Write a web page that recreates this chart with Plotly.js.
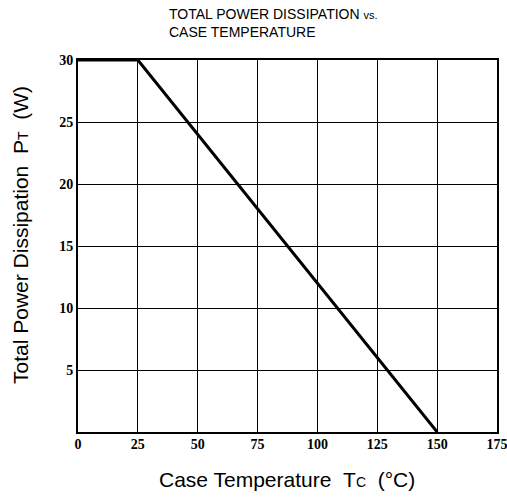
<!DOCTYPE html>
<html>
<head>
<meta charset="utf-8">
<script src="https://cdn.plot.ly/plotly-3.0.1.min.js"></script>
<style>html,body{margin:0;padding:0;background:#fff;}#chart{width:507px;height:498px;}</style>
</head>
<body>
<div id="chart"></div>
<script>
// Derating curve
const caseTempC = [0, 25, 150];
const powerW = [30, 30, 0];
const xTicks = [0, 25, 50, 75, 100, 125, 150, 175];
const yTicks = [5, 10, 15, 20, 25, 30];

const trace = {
  x: caseTempC,
  y: powerW,
  type: 'scatter',
  mode: 'lines',
  line: {color: '#000', width: 3},
  hoverinfo: 'skip'
};

const W = 507, H = 498;
const M = {l: 78, r: 10, t: 60, b: 66};
const pw = W - M.l - M.r, ph = H - M.t - M.b;
const px = x => (x - M.l) / pw;          // pixel -> paper x
const py = y => (H - M.b - y) / ph;      // pixel -> paper y

const tickFont = {family: '"Liberation Serif", "DejaVu Serif", serif', size: 14, color: '#000', weight: 'bold'};
const labelFont = {family: '"Liberation Sans", Arial, sans-serif', size: 21, color: '#000'};
const gap = '&nbsp;&nbsp;';

const layout = {
  width: W, height: H,
  margin: M,
  paper_bgcolor: '#fff', plot_bgcolor: '#fff',
  showlegend: false,
  xaxis: {
    range: [0, 175], tickvals: xTicks, ticktext: xTicks.map(String),
    showgrid: true, gridcolor: '#000', gridwidth: 1,
    showline: true, linecolor: '#000', linewidth: 2, mirror: true,
    zeroline: false, ticks: '', tickfont: tickFont, ticklabeloverflow: 'allow',
    ticklabelstandoff: -2,
    automargin: false
  },
  yaxis: {
    range: [0, 30], tickvals: yTicks, ticktext: yTicks.map(String),
    showgrid: true, gridcolor: '#000', gridwidth: 1,
    showline: true, linecolor: '#000', linewidth: 2, mirror: true,
    zeroline: false, ticks: '', tickfont: tickFont, ticklabeloverflow: 'allow',
    automargin: false
  },
  annotations: [
    {
      text: 'TOTAL POWER DISSIPATION <span style="font-size:11px">vs.</span><br>CASE TEMPERATURE',
      font: {family: '"Liberation Sans", Arial, sans-serif', size: 14, color: '#000'},
      xref: 'paper', yref: 'paper', x: px(167), y: py(4),
      xanchor: 'left', yanchor: 'top', align: 'left', showarrow: false
    },
    {
      text: 'Case Temperature' + gap + 'T<span style="font-size:14px">C</span>' + gap + '(°C)',
      font: labelFont,
      xref: 'paper', yref: 'paper', x: px(287), y: py(480),
      xanchor: 'center', yanchor: 'middle', showarrow: false
    },
    {
      text: 'Total Power Dissipation' + gap + 'P<span style="font-size:14px">T</span>' + gap + '(W)',
      font: labelFont, textangle: -90,
      xref: 'paper', yref: 'paper', x: px(20), y: py(235),
      xanchor: 'center', yanchor: 'middle', showarrow: false
    }
  ]
};

Plotly.newPlot('chart', [trace], layout, {displayModeBar: false, staticPlot: true});
</script>
</body>
</html>
